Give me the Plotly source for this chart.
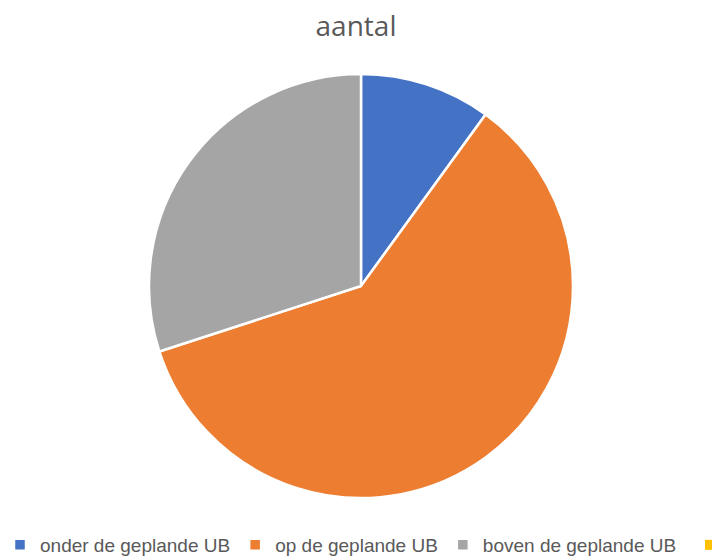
import plotly.graph_objects as go

labels = ["onder de geplande UB", "op de geplande UB", "boven de geplande UB"]
values = [10, 60, 30]
colors = ["#4472C4", "#ED7D31", "#A5A5A5"]
extra_label = "geen geplande UB"
extra_color = "#FFC000"
title = "aantal"

W, H = 712, 558
cx, cy, r = 361, 286, 212
dom = dict(x=[(cx - r) / W, (cx + r) / W], y=[(H - cy - r) / H, (H - cy + r) / H])
legend_font = dict(family="Liberation Sans, Arial, sans-serif", size=19, color="#595959")

fig = go.Figure()
fig.add_trace(go.Pie(
    labels=labels, values=values, sort=False, direction="clockwise", rotation=0,
    textinfo="none", hoverinfo="label+value",
    marker=dict(colors=colors, line=dict(color="white", width=2.5)),
    domain=dom, legend="legend",
))
# legend-only entry for the (cut-off) fourth category, which has no slice
fig.add_trace(go.Scatter(
    x=[None], y=[None], mode="markers", name=extra_label,
    marker=dict(symbol="square", size=10, color=extra_color),
    legend="legend2", showlegend=True, hoverinfo="skip",
))

fig.update_layout(
    width=W, height=H,
    margin=dict(l=0, r=0, t=0, b=0, autoexpand=False),
    paper_bgcolor="white",
    plot_bgcolor="white",
    xaxis=dict(visible=False),
    yaxis=dict(visible=False),
    title=dict(text=title, x=0.5, xanchor="center", y=1 - 26 / H, yanchor="middle",
               font=dict(family="Open Sans, Liberation Sans, sans-serif", size=28, color="#595959")),
    showlegend=True,
    legend=dict(orientation="h", x=0.0, xanchor="left", y=1 - 545 / H, yanchor="middle",
                font=legend_font, itemwidth=30, bgcolor="rgba(0,0,0,0)"),
    legend2=dict(orientation="h", x=(708 - 18) / W, xanchor="left", y=1 - 545 / H, yanchor="middle",
                 font=legend_font, itemwidth=30, bgcolor="rgba(0,0,0,0)"),
)

fig.write_html("out.html", config={"displayModeBar": False},
               post_script="document.body.style.margin='0px';")
